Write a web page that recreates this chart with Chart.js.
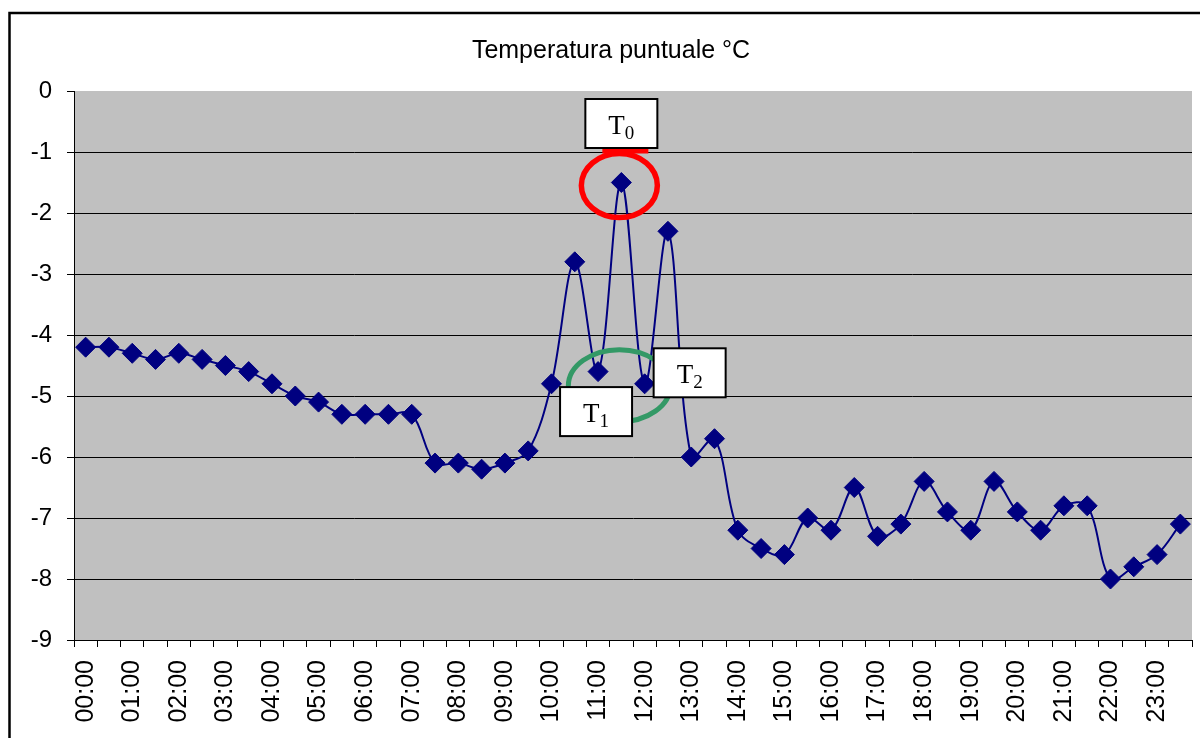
<!DOCTYPE html>
<html>
<head>
<meta charset="utf-8">
<script src="https://cdn.jsdelivr.net/npm/chart.js@4.4.0/dist/chart.umd.min.js"></script>
<style>
  html, body { margin: 0; padding: 0; background: #fff; }
  #wrap { width: 1200px; height: 738px; }
</style>
</head>
<body>
<div id="wrap"><canvas id="tempChart" width="1200" height="738"></canvas></div>
<script>
// orari ogni mezz'ora
const times = [
  '00:00','00:30','01:00','01:30','02:00','02:30','03:00','03:30',
  '04:00','04:30','05:00','05:30','06:00','06:30','07:00','07:30',
  '08:00','08:30','09:00','09:30','10:00','10:30','11:00','11:30',
  '12:00','12:30','13:00','13:30','14:00','14:30','15:00','15:30',
  '16:00','16:30','17:00','17:30','18:00','18:30','19:00','19:30',
  '20:00','20:30','21:00','21:30','22:00','22:30','23:00','23:30'
];

// temperatura puntuale °C
const temperatures = [
  -4.2, -4.2, -4.3, -4.4, -4.3, -4.4, -4.5, -4.6,
  -4.8, -5.0, -5.1, -5.3, -5.3, -5.3, -5.3, -6.1,
  -6.1, -6.2, -6.1, -5.9, -4.8, -2.8, -4.6, -1.5,
  -4.8, -2.3, -6.0, -5.7, -7.2, -7.5, -7.6, -7.0,
  -7.2, -6.5, -7.3, -7.1, -6.4, -6.9, -7.2, -6.4,
  -6.9, -7.2, -6.8, -6.8, -8.0, -7.8, -7.6, -7.1
];

const yTicks = [0, -1, -2, -3, -4, -5, -6, -7, -8, -9];

// punti evidenziati (indici nei dati)
const markT0 = 23;
const markT1 = 22;
const markT2 = 24;

const chartTitle = 'Temperatura puntuale °C';
const sansFont = "'Liberation Sans', Arial, sans-serif";
const serifFont = "'Liberation Serif', 'Times New Roman', serif";

// sfondo grigio dell'area del grafico + cornice esterna + titolo
const backgroundPlugin = {
  id: 'plotBackground',
  beforeDraw(chart) {
    const ctx = chart.ctx;
    const a = chart.chartArea;
    ctx.save();
    ctx.fillStyle = '#ffffff';
    ctx.fillRect(0, 0, chart.width, chart.height);
    ctx.fillStyle = '#c0c0c0';
    ctx.fillRect(a.left, a.top, a.right - a.left, a.bottom - a.top);
    ctx.strokeStyle = '#000000';
    ctx.lineWidth = 2.5;
    ctx.strokeRect(9.5, 13, chart.width + 100, chart.height + 100);
    ctx.fillStyle = '#000000';
    ctx.font = '25px ' + sansFont;
    ctx.textAlign = 'center';
    ctx.textBaseline = 'alphabetic';
    ctx.fillText(chartTitle, 611, 58);
    ctx.restore();
  }
};

function drawBoxLabel(ctx, cx, cy, main, sub) {
  const w = 72, h = 49;
  ctx.fillStyle = '#ffffff';
  ctx.fillRect(cx - w / 2, cy - h / 2, w, h);
  ctx.strokeStyle = '#000000';
  ctx.lineWidth = 2;
  ctx.strokeRect(cx - w / 2, cy - h / 2, w, h);
  ctx.fillStyle = '#000000';
  ctx.textAlign = 'left';
  ctx.textBaseline = 'alphabetic';
  ctx.font = '27px ' + serifFont;
  const mw = ctx.measureText(main).width;
  ctx.font = '19px ' + serifFont;
  const sw = ctx.measureText(sub).width;
  const x0 = cx - (mw + sw) / 2;
  ctx.font = '27px ' + serifFont;
  ctx.fillText(main, x0, cy + 10);
  ctx.font = '19px ' + serifFont;
  ctx.fillText(sub, x0 + mw, cy + 15);
}

// cerchi ed etichette T0, T1, T2
const annotationPlugin = {
  id: 'markAnnotations',
  afterDatasetsDraw(chart) {
    const ctx = chart.ctx;
    const meta = chart.getDatasetMeta(0);
    const p0 = meta.data[markT0];
    const p1 = meta.data[markT1];
    const p2 = meta.data[markT2];
    ctx.save();

    // ellisse verde tra T1 e T2
    ctx.strokeStyle = '#339966';
    ctx.lineWidth = 5;
    ctx.beginPath();
    ctx.ellipse((p1.x + p2.x) / 2 - 2, (p1.y + p2.y) / 2 + 8, 51, 36, 0, 0, Math.PI * 2);
    ctx.stroke();

    // cerchio rosso attorno a T0
    ctx.strokeStyle = '#ff0000';
    ctx.lineWidth = 5.5;
    ctx.beginPath();
    ctx.ellipse(p0.x - 2, p0.y + 3, 38, 32, 0, 0, Math.PI * 2);
    ctx.stroke();
    ctx.fillStyle = '#ff0000';
    ctx.fillRect(p0.x - 19, p0.y - 34, 46, 5);

    drawBoxLabel(ctx, p0.x, p0.y - 59, 'T', '0');
    drawBoxLabel(ctx, p1.x - 2, p1.y + 40, 'T', '1');
    drawBoxLabel(ctx, p2.x + 45, p2.y - 11, 'T', '2');
    ctx.restore();
  }
};

const ctx = document.getElementById('tempChart').getContext('2d');
const tempChart = new Chart(ctx, {
  type: 'line',
  data: {
    labels: times,
    datasets: [{
      label: chartTitle,
      data: temperatures,
      borderColor: '#000080',
      backgroundColor: '#000080',
      borderWidth: 2,
      tension: 0.35,
      pointStyle: 'rectRot',
      pointRadius: 10,
      pointBorderWidth: 1,
      pointBorderColor: '#000080',
      pointBackgroundColor: '#000080',
      fill: false
    }]
  },
  options: {
    responsive: false,
    animation: false,
    layout: {
      autoPadding: false,
      padding: { left: 30, right: 8, top: 91, bottom: 0 }
    },
    plugins: {
      legend: { display: false },
      title: { display: false },
      tooltip: { enabled: false }
    },
    scales: {
      x: {
        type: 'category',
        offset: true,
        grid: {
          offset: true,
          drawOnChartArea: false,
          drawTicks: true,
          tickLength: 7,
          color: '#000000',
          tickColor: '#000000'
        },
        border: { display: true, color: '#000000', width: 1 },
        ticks: {
          autoSkip: false,
          minRotation: 90,
          maxRotation: 90,
          padding: 13,
          color: '#000000',
          font: { family: sansFont, size: 25 },
          callback: function(value, index) {
            return index % 2 === 0 ? times[index] : '';
          }
        },
        afterFit(scale) {
          scale.height = 98;
          scale.paddingLeft = 0;
          scale.paddingRight = 0;
        }
      },
      y: {
        min: -9,
        max: 0,
        afterBuildTicks(scale) {
          scale.ticks = yTicks.map(v => ({ value: v }));
        },
        grid: {
          color: c => (c.tick && c.tick.value === 0 ? 'rgba(0,0,0,0)' : '#000000'),
          tickColor: '#000000',
          tickLength: 7,
          lineWidth: 1
        },
        border: { display: true, color: '#000000', width: 1 },
        ticks: {
          padding: 15,
          color: '#000000',
          font: { family: sansFont, size: 24 }
        },
        afterFit(scale) { scale.width = 44; }
      }
    }
  },
  plugins: [backgroundPlugin, annotationPlugin]
});
</script>
</body>
</html>
